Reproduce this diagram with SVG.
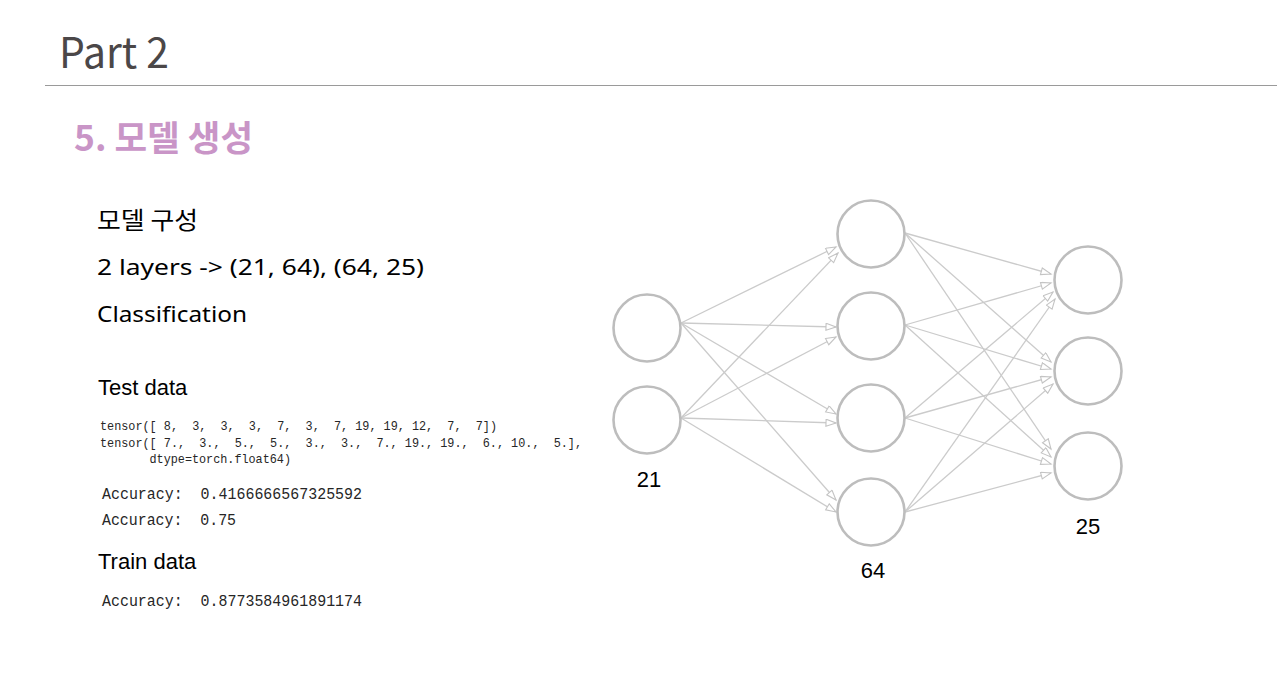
<svg xmlns="http://www.w3.org/2000/svg" width="1277" height="692" viewBox="0 0 1277 692">
<style>
.bg{fill:#ffffff}
.node{fill:#ffffff;stroke:#bdbdbd;stroke-width:2.6}
.edge{fill:none;stroke:#cbcbcb;stroke-width:1.3;marker-end:url(#arr)}
.kr{font-family:"Noto Sans CJK KR","Noto Sans",sans-serif}
.lat{font-family:"Noto Sans","Noto Sans CJK KR",sans-serif}
.ar{font-family:"Liberation Sans",Arial,sans-serif;fill:#000}
.mono{font-family:"Liberation Mono","DejaVu Sans Mono",monospace;fill:#262626}
.lbl{font-family:"Liberation Sans",Arial,sans-serif;font-size:22px;fill:#000;text-anchor:middle}
</style>
<defs>
<marker id="arr" markerUnits="userSpaceOnUse" markerWidth="14" markerHeight="10" refX="11" refY="4" orient="auto">
<path d="M1,0.5 L11,4 L1,7.5 Z" fill="#ffffff" stroke="#c4c4c4" stroke-width="1.1"/>
</marker>
</defs>
<rect class="bg" x="0" y="0" width="1277" height="692"/>

<g id="header">
<text class="kr" x="59" y="68" font-size="42" fill="#4b4748" textLength="110" lengthAdjust="spacingAndGlyphs">Part 2</text>
<line x1="45" y1="85.5" x2="1277" y2="85.5" stroke="#9a9a9a" stroke-width="1.2"/>
<text class="kr" x="74" y="151" font-size="35" font-weight="700" fill="#c995c7" textLength="179" lengthAdjust="spacingAndGlyphs">5. 모델 생성</text>
</g>

<g id="description">
<text class="kr" x="97" y="229" font-size="24" fill="#000" textLength="101" lengthAdjust="spacingAndGlyphs">모델 구성</text>
<text class="lat" x="97" y="275" font-size="22" fill="#000" textLength="327" lengthAdjust="spacingAndGlyphs">2 layers -&gt; (21, 64), (64, 25)</text>
<text class="lat" x="97" y="322" font-size="22" fill="#000" textLength="150" lengthAdjust="spacingAndGlyphs">Classification</text>
<text class="ar" x="98" y="395" font-size="22">Test data</text>
<text class="mono" x="100" y="430" font-size="13.2" textLength="397" lengthAdjust="spacingAndGlyphs" xml:space="preserve">tensor([ 8,  3,  3,  3,  7,  3,  7, 19, 19, 12,  7,  7])</text>
<text class="mono" x="100" y="447" font-size="13.2" textLength="482" lengthAdjust="spacingAndGlyphs" xml:space="preserve">tensor([ 7.,  3.,  5.,  5.,  3.,  3.,  7., 19., 19.,  6., 10.,  5.],</text>
<text class="mono" x="100" y="463" font-size="13.2" textLength="191" lengthAdjust="spacingAndGlyphs" xml:space="preserve">       dtype=torch.float64)</text>
<text class="mono" x="102" y="499" font-size="16" textLength="260" lengthAdjust="spacingAndGlyphs" xml:space="preserve">Accuracy:  0.4166666567325592</text>
<text class="mono" x="102" y="525" font-size="16" textLength="134" lengthAdjust="spacingAndGlyphs" xml:space="preserve">Accuracy:  0.75</text>
<text class="ar" x="98" y="569" font-size="22">Train data</text>
<text class="mono" x="102" y="606" font-size="16" textLength="260" lengthAdjust="spacingAndGlyphs" xml:space="preserve">Accuracy:  0.8773584961891174</text>
</g>

<g id="connectors">
<line class="edge" x1="681" y1="323" x2="836" y2="247"/>
<line class="edge" x1="681" y1="418" x2="838" y2="253"/>
<line class="edge" x1="681" y1="323" x2="836" y2="327"/>
<line class="edge" x1="681" y1="418" x2="836" y2="337"/>
<line class="edge" x1="681" y1="323" x2="836" y2="414"/>
<line class="edge" x1="681" y1="418" x2="836" y2="423"/>
<line class="edge" x1="681" y1="323" x2="836" y2="500"/>
<line class="edge" x1="681" y1="418" x2="836" y2="512"/>

<line class="edge" x1="905" y1="233" x2="1051" y2="274"/>
<line class="edge" x1="905" y1="325" x2="1051" y2="283"/>
<line class="edge" x1="905" y1="418" x2="1053" y2="292"/>
<line class="edge" x1="905" y1="512" x2="1055" y2="299"/>

<line class="edge" x1="905" y1="233" x2="1051" y2="362"/>
<line class="edge" x1="905" y1="325" x2="1051" y2="369"/>
<line class="edge" x1="905" y1="418" x2="1051" y2="377"/>
<line class="edge" x1="905" y1="512" x2="1053" y2="384"/>

<line class="edge" x1="905" y1="233" x2="1051" y2="449"/>
<line class="edge" x1="905" y1="325" x2="1051" y2="457"/>
<line class="edge" x1="905" y1="418" x2="1051" y2="464"/>
<line class="edge" x1="905" y1="512" x2="1051" y2="473"/>
</g>

<g id="input-layer">
<circle class="node" cx="647" cy="328" r="33.5"/>
<circle class="node" cx="647" cy="420" r="33.5"/>
<text class="lbl" x="649" y="487">21</text>
</g>
<g id="hidden-layer">
<circle class="node" cx="871" cy="234" r="33.5"/>
<circle class="node" cx="871" cy="326" r="33.5"/>
<circle class="node" cx="871" cy="418" r="33.5"/>
<circle class="node" cx="871" cy="512" r="33.5"/>
<text class="lbl" x="873" y="578">64</text>
</g>
<g id="output-layer">
<circle class="node" cx="1088" cy="280" r="33.5"/>
<circle class="node" cx="1088" cy="371" r="33.5"/>
<circle class="node" cx="1088" cy="466" r="33.5"/>
<text class="lbl" x="1088" y="534">25</text>
</g>
</svg>
